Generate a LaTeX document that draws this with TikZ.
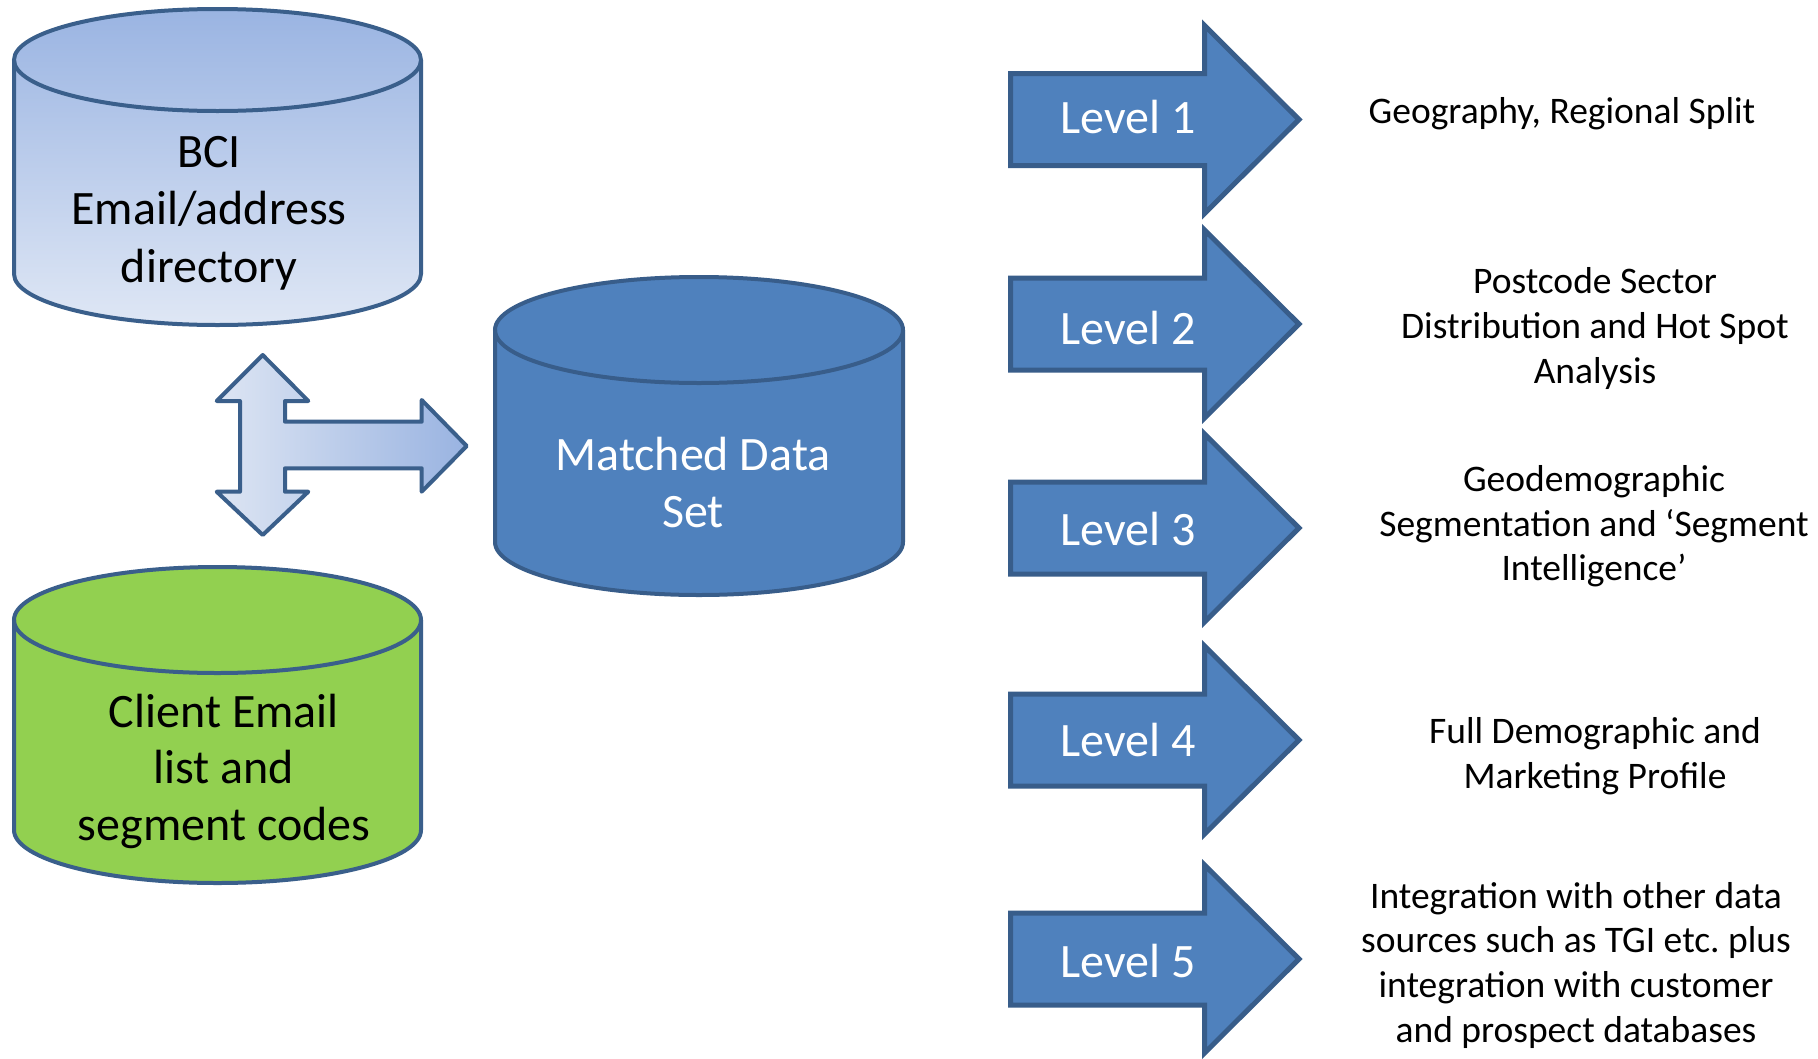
\documentclass[tikz,border=0pt]{standalone}
\usepackage{fontspec}
\setmainfont{Carlito}
\frenchspacing
\definecolor{edge}{HTML}{3A5F8B}
\definecolor{lvlfill}{HTML}{4F81BD}
\definecolor{lvledge}{HTML}{385D8A}
\definecolor{cgreen}{HTML}{92D050}
\definecolor{bcitop}{HTML}{9AB4E2}
\definecolor{bcibot}{HTML}{DFE7F5}
\definecolor{xleft}{HTML}{DDE5F3}
\definecolor{xright}{HTML}{99B3E1}
\begin{document}
\begin{tikzpicture}[x=1pt,y=-1pt,
  cylline/.style={draw=edge,line width=4pt},
  big/.style={font=\fontsize{48}{57}\selectfont,anchor=base,inner sep=0pt},
  small/.style={font=\fontsize{37.5}{45}\selectfont,anchor=base,inner sep=0pt},
  lvlarrow/.style={fill=lvlfill,draw=lvledge,line width=5pt,line join=miter},
  lvltext/.style={big,text=white}]
\useasboundingbox[fill=white] (0,0) rectangle (1818,1058);

% ---------- BCI cylinder ----------
\path[shading=axis,top color=bcitop,bottom color=bcibot]
  (14,60) -- (14,274) arc[start angle=180,end angle=0,x radius=203.5,y radius=51]
  -- (421,60) arc[start angle=0,end angle=-180,x radius=203.5,y radius=51] -- cycle;
\draw[cylline] (217.5,60) ellipse[x radius=203.5,y radius=51];
\draw[cylline] (14,60) -- (14,274) arc[start angle=180,end angle=0,x radius=203.5,y radius=51] -- (421,60);
\node[big] (bci1) at (209,167) {BCI};
\node[big] (bci2) at (209,224.5) {Email/address};
\node[big] (bci3) at (209,282) {directory};

% ---------- Client cylinder ----------
\path[fill=cgreen]
  (14,620) -- (14,830) arc[start angle=180,end angle=0,x radius=203.5,y radius=53]
  -- (421,620) arc[start angle=0,end angle=-180,x radius=203.5,y radius=53] -- cycle;
\draw[cylline] (217.5,620) ellipse[x radius=203.5,y radius=53];
\draw[cylline] (14,620) -- (14,830) arc[start angle=180,end angle=0,x radius=203.5,y radius=53] -- (421,620);
\node[big] (cl1) at (224,727) {Client Email};
\node[big] (cl2) at (224,783) {list and};
\node[big] (cl3) at (224,840) {segment codes};

% ---------- Matched data set cylinder ----------
\path[fill=lvlfill]
  (495,330) -- (495,542) arc[start angle=180,end angle=0,x radius=204,y radius=53]
  -- (903,330) arc[start angle=0,end angle=-180,x radius=204,y radius=53] -- cycle;
\draw[cylline,draw=lvledge] (699,330) ellipse[x radius=204,y radius=53];
\draw[cylline,draw=lvledge] (495,330) -- (495,542) arc[start angle=180,end angle=0,x radius=204,y radius=53] -- (903,330);
\node[big,text=white] (md1) at (693,470) {Matched Data};
\node[big,text=white] (md2) at (693,527) {Set};

% ---------- cross arrow ----------
\draw[draw=edge,line width=4pt,line join=round,shading=axis,left color=xleft,right color=xright]
  (262.7,355) -- (308.3,401) -- (285,401) -- (285,421.7) -- (421.7,421.7) -- (421.7,400)
  -- (466.7,446) -- (421.7,491.7) -- (421.7,468.3) -- (285,468.3) -- (285,491.7)
  -- (308.3,491.7) -- (262.7,535) -- (216.7,491.7) -- (240,491.7) -- (240,401)
  -- (216.7,401) -- cycle;

% ---------- level arrows ----------
\foreach \i/\c/\b in {1/119.5/133,2/324/344,3/528/545,4/740/756,5/959/977}{
  \draw[lvlarrow] (1010.5,\c-46) -- (1204.5,\c-46) -- (1204.5,\c-94) -- (1299,\c)
    -- (1204.5,\c+94) -- (1204.5,\c+46) -- (1010.5,\c+46) -- cycle;
  \node[lvltext] (lvl\i) at (1128,\b) {Level \i};
}

% ---------- descriptions ----------
\node[small] (d1) at (1562,123) {Geography, Regional Split};
\node[small] (d2a) at (1595,293) {Postcode Sector};
\node[small] (d2b) at (1595,338) {Distribution and Hot Spot};
\node[small] (d2c) at (1595,383) {Analysis};
\node[small] (d3a) at (1594,491) {Geodemographic};
\node[small] (d3b) at (1594,536) {Segmentation and ‘Segment};
\node[small] (d3c) at (1594,580) {Intelligence’};
\node[small] (d4a) at (1595,743) {Full Demographic and};
\node[small] (d4b) at (1595,788) {Marketing Profile};
\node[small] (d5a) at (1576,908) {Integration with other data};
\node[small] (d5b) at (1576,952) {sources such as TGI etc. plus};
\node[small] (d5c) at (1576,997) {integration with customer};
\node[small] (d5d) at (1576,1042) {and prospect databases};
\end{tikzpicture}
\end{document}
